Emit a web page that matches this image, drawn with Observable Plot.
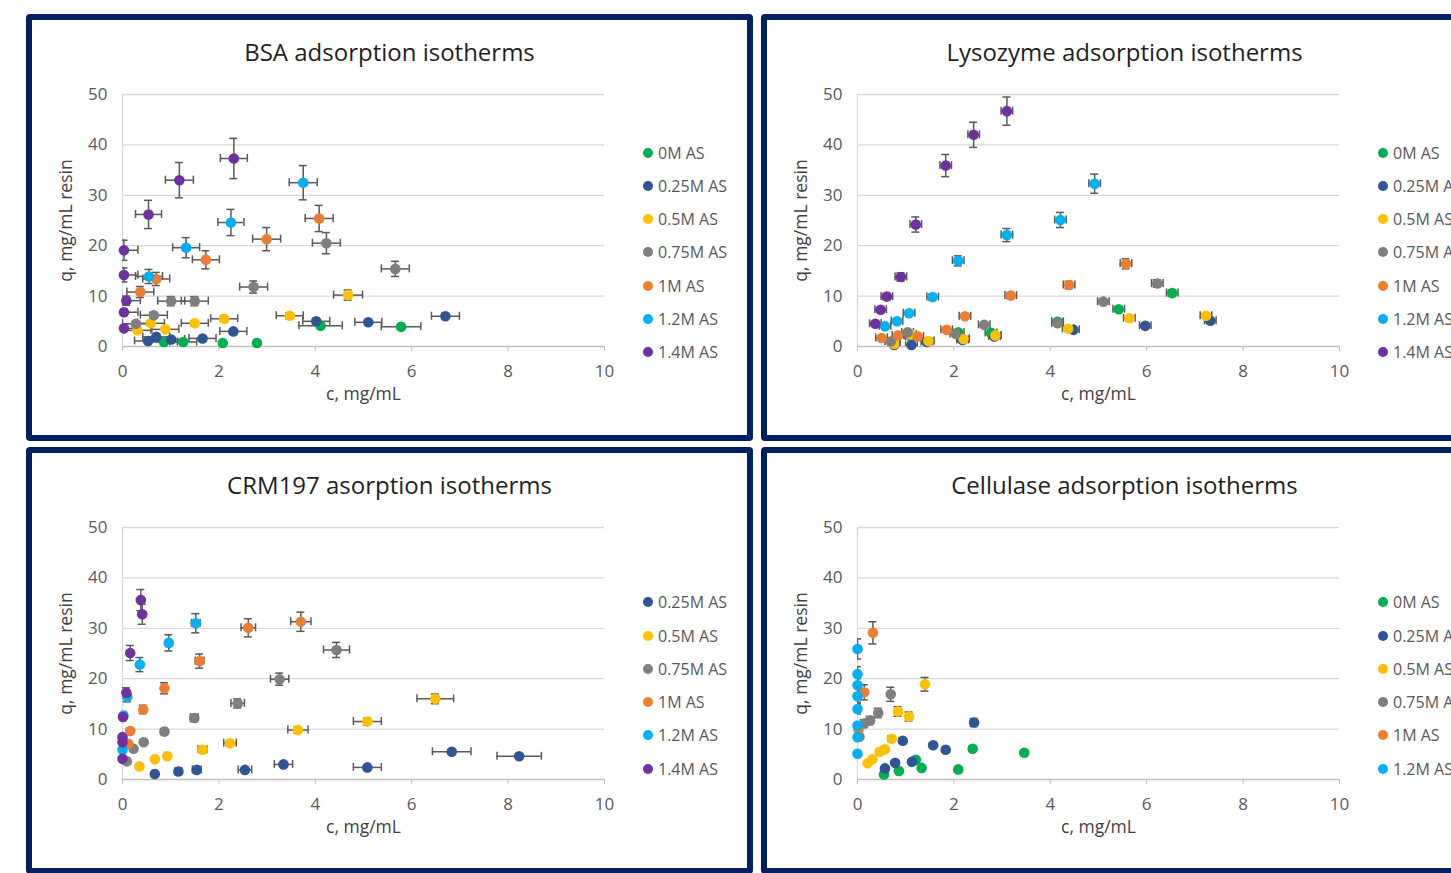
<!DOCTYPE html>
<html>
<head>
<meta charset="utf-8">
<script src="https://cdn.jsdelivr.net/npm/d3@7"></script>
<script src="https://cdn.jsdelivr.net/npm/@observablehq/plot@0.6"></script>
<style>
html, body { margin: 0; padding: 0; background: #fff; overflow: hidden; width: 1451px; height: 873px; }
.panel { position: absolute; width: 727px; height: 427px; background: #fff; }
.panel svg { position: absolute; left: 0; top: 0; }
.frame { position: absolute; left: 0; top: 0; width: 727px; height: 427px; box-sizing: border-box;
         border: 6px solid #002060; border-radius: 4px; pointer-events: none; }
.title { position: absolute; left: 0; top: 25.7px; width: 727px; text-align: center;
         font-family: "Open Sans", sans-serif; font-size: 24px; line-height: 24px; color: #1f1f1f; white-space: nowrap; }
.legend { position: absolute; left: 617px; font-family: "Open Sans", sans-serif; font-size: 16px; color: #595959; }
.legend .row { height: 33.3px; display: flex; align-items: center; white-space: nowrap; }
.legend .sw { width: 10px; height: 10px; border-radius: 50%; margin-right: 5px; flex: none; }
</style>
</head>
<body>
<script>
// ---- shared categories / styles ----
const seriesNames = ["0M AS", "0.25M AS", "0.5M AS", "0.75M AS", "1M AS", "1.2M AS", "1.4M AS"];
const seriesColors = ["#00B050", "#2F5597", "#FFC000", "#7F7F7F", "#ED7D31", "#00B0F0", "#7030A0"];
const xTicks = [0, 2, 4, 6, 8, 10];
const yTicks = [0, 10, 20, 30, 40, 50];
const xLabel = "c, mg/mL";
const yLabel = "q, mg/mL resin";

// ---- data: [c, q, c error, q error] ----
// BSA
const bsa0M  = [[0.86,0.9,0.28,0.1],[1.26,0.9,0.28,0.1],[2.08,0.7,0,0],[2.79,0.7,0,0],[4.11,4.1,0.45,0.4],[5.78,3.9,0.41,0.4]];
const bsa025 = [[0.53,1.1,0.28,0.1],[0.70,1.9,0.28,0.2],[1.01,1.4,0.28,0.15],[1.66,1.6,0.28,0.15],[2.30,3.0,0.28,0.3],[4.02,5.0,0.28,0.5],[5.10,4.8,0.28,0.5],[6.70,6.0,0.29,0.6]];
const bsa05  = [[0.31,3.2,0.28,0.3],[0.59,4.6,0.28,0.45],[0.89,3.4,0.28,0.35],[1.50,4.6,0.28,0.45],[2.11,5.5,0.28,0.55],[3.47,6.1,0.28,0.6],[4.68,10.2,0.3,1.0]];
const bsa075 = [[0.28,4.5,0.28,0.45],[0.65,6.2,0.28,0.6],[1.01,9.0,0.28,0.9],[1.50,9.0,0.28,0.9],[2.72,11.8,0.29,1.2],[4.23,20.5,0.29,2.1],[5.66,15.4,0.29,1.5]];
const bsa1M  = [[0.37,10.8,0.28,1.1],[0.70,13.4,0.28,1.3],[1.73,17.2,0.28,1.8],[2.99,21.3,0.29,2.3],[4.08,25.4,0.29,2.6]];
const bsa12  = [[0.55,13.9,0.28,1.4],[1.32,19.6,0.28,2.0],[2.25,24.6,0.27,2.6],[3.75,32.5,0.29,3.4]];
const bsa14  = [[0.03,3.6,0.29,0.4],[0.03,6.8,0.29,0.7],[0.08,9.1,0.29,0.9],[0.03,14.2,0.29,1.4],[0.03,19.1,0.29,2.0],[0.54,26.2,0.27,2.8],[1.18,33.0,0.29,3.5],[2.31,37.3,0.28,4.0]];
// Lysozyme
const lys0M  = [[1.11,2.0,0.12,0.12],[2.09,2.8,0.12,0.17],[2.77,2.7,0.12,0.16],[4.15,4.9,0.12,0.3],[5.42,7.4,0.12,0.45],[6.53,10.6,0.12,0.65]];
const lys025 = [[0.76,0.3,0.12,0.02],[1.12,0.3,0.12,0.02],[1.44,0.9,0.12,0.05],[2.18,1.3,0.12,0.08],[2.84,2.0,0.12,0.12],[4.48,3.3,0.12,0.2],[5.97,4.1,0.12,0.25],[7.32,5.1,0.12,0.3]];
const lys05  = [[0.76,0.5,0.12,0.03],[1.10,2.4,0.12,0.15],[1.47,1.1,0.12,0.07],[2.20,1.5,0.12,0.09],[2.86,2.2,0.12,0.13],[4.37,3.5,0.12,0.21],[5.64,5.6,0.12,0.34],[7.23,6.1,0.12,0.37]];
const lys075 = [[0.69,1.0,0.12,0.06],[1.04,2.8,0.12,0.17],[2.04,2.5,0.12,0.15],[2.63,4.3,0.12,0.26],[4.15,4.6,0.12,0.28],[5.10,8.9,0.12,0.53],[6.22,12.5,0.12,0.75]];
const lys1M  = [[0.50,1.7,0.12,0.1],[0.84,2.2,0.12,0.13],[1.25,2.0,0.12,0.12],[1.85,3.3,0.12,0.2],[2.23,6.0,0.12,0.36],[3.18,10.1,0.12,0.6],[4.39,12.2,0.12,0.73],[5.57,16.4,0.12,1.0]];
const lys12  = [[0.57,4.0,0.12,0.24],[0.82,5.0,0.12,0.3],[1.07,6.6,0.12,0.4],[1.56,9.8,0.12,0.6],[2.09,17.0,0.12,1.0],[3.10,22.1,0.12,1.3],[4.21,25.1,0.12,1.5],[4.92,32.3,0.12,1.9]];
const lys14  = [[0.37,4.5,0.12,0.27],[0.48,7.3,0.12,0.45],[0.61,9.9,0.12,0.6],[0.90,13.8,0.12,0.8],[1.21,24.2,0.12,1.5],[1.83,35.9,0.12,2.2],[2.41,42.0,0.12,2.5],[3.10,46.7,0.12,2.8]];
// CRM197
const crm025 = [[0.67,1.1,0.04,0.07],[1.16,1.6,0.07,0.1],[1.54,1.9,0.09,0.11],[2.54,1.9,0.14,0.11],[3.34,3.0,0.19,0.18],[5.08,2.4,0.29,0.14],[6.83,5.5,0.40,0.33],[8.23,4.6,0.46,0.28]];
const crm05  = [[0.35,2.6,0.02,0.16],[0.67,4.0,0.04,0.24],[0.93,4.6,0.05,0.28],[1.66,5.9,0.09,0.35],[2.23,7.2,0.13,0.43],[3.64,9.8,0.21,0.59],[5.08,11.5,0.29,0.69],[6.49,16.0,0.38,0.96]];
const crm075 = [[0.09,3.6,0.01,0.22],[0.23,6.1,0.01,0.37],[0.44,7.4,0.03,0.44],[0.87,9.5,0.05,0.57],[1.49,12.2,0.08,0.73],[2.39,15.1,0.14,0.9],[3.26,19.9,0.19,1.2],[4.44,25.7,0.27,1.5]];
const crm1M  = [[0.12,7.1,0.01,0.43],[0.16,9.6,0.01,0.58],[0.43,13.9,0.02,0.83],[0.87,18.1,0.05,1.1],[1.60,23.5,0.09,1.4],[2.61,30.1,0.15,1.8],[3.70,31.3,0.21,1.9]];
const crm12  = [[0.00,5.9,0,0.35],[0.02,12.7,0,0.76],[0.10,16.4,0.01,1.0],[0.36,22.8,0.02,1.4],[0.96,27.1,0.05,1.6],[1.52,31.0,0.09,1.9]];
const crm14  = [[0.00,4.1,0,0.25],[0.00,7.4,0,0.44],[0.00,8.4,0,0.5],[0.01,12.4,0,0.74],[0.08,17.2,0,1.0],[0.16,25.1,0.01,1.5],[0.41,32.8,0.02,2.0],[0.38,35.6,0.02,2.1]];
// Cellulase
const cel0M  = [[0.55,1.0,0,0.07],[0.86,1.7,0,0.12],[1.21,3.9,0,0.27],[1.33,2.3,0,0.16],[2.09,2.0,0,0.14],[2.39,6.1,0,0.43],[3.46,5.3,0,0.37]];
const cel025 = [[0.57,2.2,0,0.15],[0.78,3.3,0,0.23],[0.94,7.7,0,0.54],[1.13,3.5,0,0.25],[1.57,6.8,0,0.48],[1.83,5.9,0,0.41],[2.42,11.3,0,0.8]];
const cel05  = [[0.21,3.2,0,0.22],[0.31,4.0,0,0.28],[0.46,5.5,0,0.39],[0.57,6.0,0,0.42],[0.71,8.1,0,0.57],[0.84,13.5,0,0.95],[1.07,12.5,0,0.88],[1.40,18.9,0,1.35]];
const cel075 = [[0.04,8.5,0,0.6],[0.14,11.1,0,0.78],[0.26,11.7,0,0.82],[0.43,13.2,0,0.92],[0.69,16.9,0,1.4]];
const cel1M  = [[0.02,9.9,0,0.7],[0.14,17.3,0,1.5],[0.32,29.1,0,2.2]];
const cel12  = [[0.00,5.1,0,0.36],[0.00,8.4,0,0.6],[0.00,10.7,0,0.75],[0.00,14.0,0,1.0],[0.00,16.5,0,1.2],[0.00,18.7,0,1.3],[0.00,20.9,0,1.5],[0.00,25.9,0,2.0]];

const panels = [
  {left: 26,  top: 14,  title: "BSA adsorption isotherms",
   series: [["0M AS", bsa0M], ["0.25M AS", bsa025], ["0.5M AS", bsa05], ["0.75M AS", bsa075], ["1M AS", bsa1M], ["1.2M AS", bsa12], ["1.4M AS", bsa14]]},
  {left: 761, top: 14,  title: "Lysozyme adsorption isotherms",
   series: [["0M AS", lys0M], ["0.25M AS", lys025], ["0.5M AS", lys05], ["0.75M AS", lys075], ["1M AS", lys1M], ["1.2M AS", lys12], ["1.4M AS", lys14]]},
  {left: 26,  top: 447, title: "CRM197 asorption isotherms",
   series: [["0.25M AS", crm025], ["0.5M AS", crm05], ["0.75M AS", crm075], ["1M AS", crm1M], ["1.2M AS", crm12], ["1.4M AS", crm14]]},
  {left: 761, top: 447, title: "Cellulase adsorption isotherms",
   series: [["0M AS", cel0M], ["0.25M AS", cel025], ["0.5M AS", cel05], ["0.75M AS", cel075], ["1M AS", cel1M], ["1.2M AS", cel12]]}
];

const errStyle = {stroke: "#595959", strokeWidth: 1.5, clip: true};

function buildPanel(p) {
  const rows = [];
  p.series.forEach(([name, pts]) => pts.forEach(([c, q, ce, qe]) => rows.push({s: name, c, q, ce, qe})));
  const xErr = rows.filter(d => d.ce > 0);
  const yErr = rows.filter(d => d.qe > 0);

  const svg = Plot.plot({
    width: 727, height: 427,
    marginLeft: 96, marginRight: 149, marginTop: 80, marginBottom: 95,
    style: {fontFamily: "'Open Sans', sans-serif", background: "transparent", overflow: "visible"},
    x: {domain: [0, 10]},
    y: {domain: [0, 50]},
    color: {type: "ordinal", domain: seriesNames, range: seriesColors},
    marks: [
      Plot.gridY(yTicks.filter(t => t > 0), {stroke: "#D9D9D9", strokeOpacity: 1, strokeWidth: 1.3}),
      Plot.ruleX([0], {stroke: "#D9D9D9", strokeWidth: 1.3}),
      Plot.ruleY([0], {stroke: "#BFBFBF", strokeWidth: 1.3}),
      Plot.axisX(xTicks, {tickSize: 5, tickPadding: 13, stroke: "#BFBFBF", fill: "#595959", fontSize: 17, label: null}),
      Plot.axisY(yTicks, {tickSize: 0, tickPadding: 15, fill: "#595959", fontSize: 17, label: null}),
      Plot.text([xLabel], {text: d => d, frameAnchor: "bottom", textAnchor: "middle", lineAnchor: "top", dy: 41, fontSize: 17.5, fill: "#404040"}),
      Plot.text([yLabel], {text: d => d, frameAnchor: "left", textAnchor: "middle", rotate: -90, lineAnchor: "top", dx: -63, fontSize: 17.5, fill: "#404040"}),
      // horizontal error bars + caps
      Plot.ruleY(xErr, {y: "q", x1: d => d.c - d.ce, x2: d => d.c + d.ce, ...errStyle}),
      Plot.ruleX(xErr, {x: d => d.c - d.ce, y1: "q", y2: "q", insetTop: -4, insetBottom: -4, ...errStyle}),
      Plot.ruleX(xErr, {x: d => d.c + d.ce, y1: "q", y2: "q", insetTop: -4, insetBottom: -4, ...errStyle}),
      // vertical error bars + caps
      Plot.ruleX(yErr, {x: "c", y1: d => d.q - d.qe, y2: d => d.q + d.qe, ...errStyle}),
      Plot.ruleY(yErr, {y: d => d.q - d.qe, x1: "c", x2: "c", insetLeft: -4, insetRight: -4, ...errStyle}),
      Plot.ruleY(yErr, {y: d => d.q + d.qe, x1: "c", x2: "c", insetLeft: -4, insetRight: -4, ...errStyle}),
      // markers
      Plot.dot(rows, {x: "c", y: "q", r: 5.3, fill: "s", stroke: "none"})
    ]
  });

  const div = document.createElement("div");
  div.className = "panel";
  div.style.left = p.left + "px";
  div.style.top = p.top + "px";
  div.appendChild(svg);

  const t = document.createElement("div");
  t.className = "title";
  t.textContent = p.title;
  div.appendChild(t);

  const lg = document.createElement("div");
  lg.className = "legend";
  lg.style.top = (238.5 - p.series.length * 33.3 / 2) + "px";
  p.series.forEach(([name]) => {
    const r = document.createElement("div");
    r.className = "row";
    const sw = document.createElement("span");
    sw.className = "sw";
    sw.style.background = seriesColors[seriesNames.indexOf(name)];
    const tx = document.createElement("span");
    tx.textContent = name;
    r.appendChild(sw); r.appendChild(tx);
    lg.appendChild(r);
  });
  div.appendChild(lg);

  const fr = document.createElement("div");
  fr.className = "frame";
  div.appendChild(fr);

  document.body.appendChild(div);
}

panels.forEach(buildPanel);
</script>
</body>
</html>
